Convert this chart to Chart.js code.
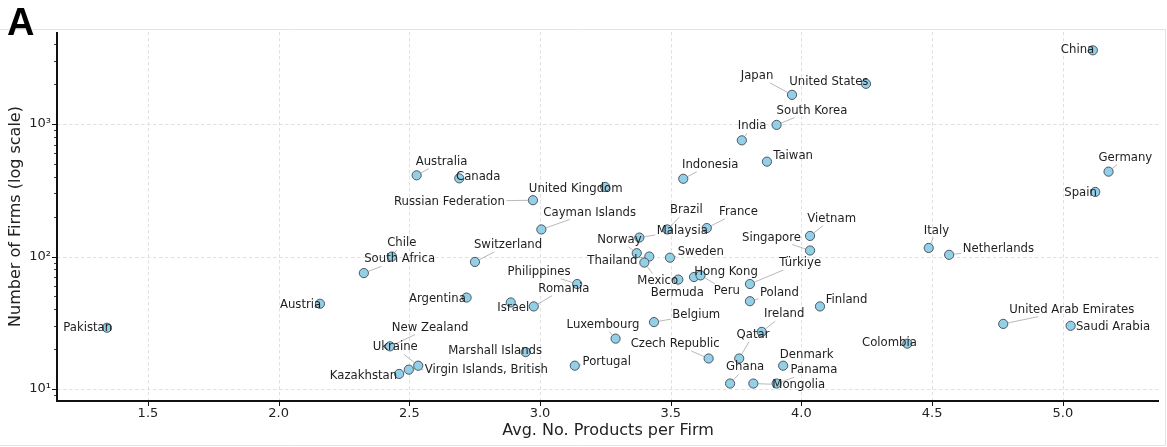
<!DOCTYPE html>
<html>
<head>
<meta charset="utf-8">
<script src="https://cdn.jsdelivr.net/npm/chart.js@4.4.1/dist/chart.umd.min.js"></script>
<style>
  html, body { margin: 0; padding: 0; background: #fff; }
  #wrap { width: 1167px; height: 447px; position: relative; }
</style>
</head>
<body>
<div id="wrap"><canvas id="c"></canvas></div>
<script>
// ---- data ----
const countries = [
  'China','United States','Japan','South Korea','India','Taiwan','Indonesia','Germany','Spain',
  'Australia','Canada','United Kingdom','Russian Federation','Cayman Islands','Brazil','France',
  'Malaysia','Norway','Thailand','Sweden','Mexico','Bermuda','Hong Kong','Peru','Türkiye','Poland',
  'Singapore','Vietnam','Italy','Netherlands','Finland','Ireland','Qatar','Ghana','Mongolia','Panama',
  'Denmark','Czech Republic','Belgium','Luxembourg','Portugal','Colombia','United Arab Emirates',
  'Saudi Arabia','Chile','South Africa','Switzerland','Philippines','Romania','Argentina','Israel',
  'Austria','Pakistan','New Zealand','Ukraine','Virgin Islands, British','Kazakhstan','Marshall Islands'
];
const avgProducts = [
  5.115, 4.247, 3.964, 3.905, 3.772, 3.868, 3.548, 5.175, 5.124,
  2.528, 2.691, 3.249, 2.973, 3.005, 3.487, 3.638,
  3.380, 3.370, 3.418, 3.497, 3.399, 3.529, 3.589, 3.614, 3.803, 3.803,
  4.033, 4.033, 4.487, 4.565, 4.071, 3.848, 3.762, 3.727, 3.816, 3.905,
  3.930, 3.645, 3.436, 3.289, 3.133, 4.405, 4.772,
  5.030, 2.433, 2.326, 2.751, 3.142, 2.976, 2.719, 2.888,
  2.158, 1.343, 2.426, 2.534, 2.498, 2.461, 2.945
];
const numFirms = [
  3600, 2010, 1660, 985, 753, 520, 386, 437, 307,
  410, 389, 335, 266, 160, 160, 164,
  139, 106, 100, 98, 90, 67, 70, 72, 62, 46,
  111, 143, 116, 103, 42, 27, 17, 11, 11, 11,
  15, 17, 32, 24, 15, 22, 31,
  30, 100, 75, 91, 62, 42, 49, 45,
  44, 29, 21, 15, 14, 13, 19
];
// label offsets (pixels, relative to each point: left edge x, vertical centre y)
const labelDx = [
  -32, -76.7, -51.3, 0, -4, 6.3, -1.3, -10, -31,
  -1, -3.3, -76.3, -139, 2, 2.7, 12.3,
  17.4, -39.4, -62, 7.7, -7, -27.6, 0.3, 13.3, 29.3, 10,
  -68, -2.7, -5, 13.7, 5.7, 2.3, -2.6, -4, 19, 14,
  -3.3, -78, 18.3, -49, 7.7, -45.3, 6,
  5.3, -4.7, 0.3, -1, -69.6, 4.6, -57.7, -13.4,
  -40, -43.7, 1.7, -45.6, 16, -69.3, -77.4
];
const labelDy = [
  0, -1.7, -19, -14.3, -14, -6, -14, -14, 0.7,
  -13.7, -1.3, 2.3, 1.3, -17, -19.3, -16.3,
  -7, -13.3, 4.3, -6, 18, 13, -5, 15.3, -21, -8.4,
  -13, -17.3, -17.3, -6, -6, -17.7, -23.7, -16.3, 1.7, -13.3,
  -11, -14.4, -7.3, -14, -3.7, -0.3, -14.3,
  1, -13.6, -13.7, -17, -12.3, -17.7, 1.3, 5.7,
  1, 0.7, -18.7, -18.3, 0.3, 2.4, -1
];
const xTickValues = [1.5, 2.0, 2.5, 3.0, 3.5, 4.0, 4.5, 5.0];
const yMajorTicks = [10, 100, 1000];
const yTickLabels = ['10¹', '10²', '10³'];
const xRange = [1.152, 5.368];
const yRange = [8.12, 4948];

const FONT = "'DejaVu Sans', sans-serif";
const POINT_R = 4.6;

function yMinorTicks() {
  const out = [];
  for (let e = 0; e <= 3; e++) {
    for (let m = 2; m <= 9; m++) {
      const v = m * Math.pow(10, e);
      if (v >= yRange[0] && v <= yRange[1]) out.push(v);
    }
  }
  return out;
}

const decorPlugin = {
  id: 'decor',
  beforeDraw(chart) {
    const ctx = chart.ctx;
    ctx.save();
    ctx.fillStyle = '#fff';
    ctx.fillRect(0, 0, chart.width, chart.height);
    // panel frame
    ctx.strokeStyle = '#e3e3e3';
    ctx.lineWidth = 1;
    ctx.beginPath();
    ctx.moveTo(0, 29.5); ctx.lineTo(1165.5, 29.5); ctx.lineTo(1165.5, 445.5); ctx.lineTo(0, 445.5);
    ctx.stroke();
    ctx.restore();
  },
  beforeDatasetsDraw(chart) {
    const ctx = chart.ctx, a = chart.chartArea;
    const xs = chart.scales.x, ys = chart.scales.y;
    ctx.save();
    ctx.strokeStyle = '#d9d9d9';
    ctx.lineWidth = 0.8;
    ctx.setLineDash([3.5, 2.5]);
    xTickValues.forEach(v => {
      const px = Math.round(xs.getPixelForValue(v)) + 0.5;
      ctx.beginPath(); ctx.moveTo(px, a.top); ctx.lineTo(px, a.bottom); ctx.stroke();
    });
    yMajorTicks.forEach(v => {
      const py = Math.round(ys.getPixelForValue(v)) + 0.5;
      ctx.beginPath(); ctx.moveTo(a.left, py); ctx.lineTo(a.right, py); ctx.stroke();
    });
    ctx.restore();
  },
  afterDatasetsDraw(chart) {
    const ctx = chart.ctx, a = chart.chartArea;
    const xs = chart.scales.x, ys = chart.scales.y;
    ctx.save();
    // spines
    ctx.strokeStyle = '#111';
    ctx.lineWidth = 2;
    ctx.beginPath();
    ctx.moveTo(a.left, a.top); ctx.lineTo(a.left, a.bottom); ctx.lineTo(a.right, a.bottom);
    ctx.stroke();
    // tick marks
    ctx.lineWidth = 1;
    xTickValues.forEach(v => {
      const px = Math.round(xs.getPixelForValue(v)) + 0.5;
      ctx.beginPath(); ctx.moveTo(px, a.bottom); ctx.lineTo(px, a.bottom + 5); ctx.stroke();
    });
    yMajorTicks.forEach(v => {
      const py = Math.round(ys.getPixelForValue(v)) + 0.5;
      ctx.beginPath(); ctx.moveTo(a.left, py); ctx.lineTo(a.left - 5, py); ctx.stroke();
    });
    ctx.lineWidth = 0.8;
    yMinorTicks().forEach(v => {
      const py = Math.round(ys.getPixelForValue(v)) + 0.5;
      ctx.beginPath(); ctx.moveTo(a.left, py); ctx.lineTo(a.left - 3, py); ctx.stroke();
    });

    // labels + leaders
    const meta = chart.getDatasetMeta(0);
    ctx.font = '11.7px ' + FONT;
    ctx.textBaseline = 'middle';
    ctx.textAlign = 'left';
    const h = 12;
    meta.data.forEach((el, i) => {
      const px = el.x, py = el.y;
      const lx = px + labelDx[i], ly = py + labelDy[i];
      const w = ctx.measureText(countries[i]).width;
      const cx = lx + w / 2, cy = ly;
      const hw = w / 2 + 1.5, hh = h / 2 + 1;
      // leader if point is outside the label box
      const nearX = Math.max(lx - 1.5, Math.min(px, lx + w + 1.5));
      const nearY = Math.max(ly - hh, Math.min(py, ly + hh));
      const dist = Math.hypot(px - nearX, py - nearY);
      if (dist > POINT_R + 1) {
        const dx = px - cx, dy = py - cy;
        const t = Math.min(dx !== 0 ? hw / Math.abs(dx) : Infinity, dy !== 0 ? hh / Math.abs(dy) : Infinity);
        const sx = cx + dx * t, sy = cy + dy * t;
        const L = Math.hypot(dx, dy);
        const ex = px - dx / L * POINT_R, ey = py - dy / L * POINT_R;
        ctx.strokeStyle = 'rgba(150,150,150,0.75)';
        ctx.lineWidth = 0.9;
        ctx.beginPath(); ctx.moveTo(sx, sy); ctx.lineTo(ex, ey); ctx.stroke();
      }
    });
    ctx.fillStyle = '#1e1e1e';
    meta.data.forEach((el, i) => {
      ctx.fillText(countries[i], el.x + labelDx[i], el.y + labelDy[i]);
    });

    // panel letter
    ctx.fillStyle = '#000';
    ctx.font = "bold 38px 'Liberation Sans', Arial, sans-serif";
    ctx.textBaseline = 'alphabetic';
    ctx.fillText('A', 7, 35);
    ctx.restore();
  }
};

new Chart(document.getElementById('c'), {
  type: 'scatter',
  data: {
    datasets: [{
      data: avgProducts.map((x, i) => ({ x: x, y: numFirms[i] })),
      pointRadius: POINT_R,
      pointHoverRadius: POINT_R,
      backgroundColor: '#93cfe7',
      borderColor: '#3e4a52',
      borderWidth: 0.9
    }]
  },
  options: {
    responsive: true,
    maintainAspectRatio: false,
    animation: false,
    events: [],
    layout: { padding: { top: 32, right: 8, left: 0, bottom: 0 } },
    plugins: { legend: { display: false }, tooltip: { enabled: false } },
    scales: {
      x: {
        type: 'linear',
        min: xRange[0], max: xRange[1],
        afterBuildTicks: s => { s.ticks = xTickValues.map(v => ({ value: v })); },
        afterFit: s => { s.height = 46; },
        grid: { display: false, drawTicks: false },
        border: { display: false },
        ticks: {
          padding: 5,
          color: '#222',
          font: { family: FONT, size: 13 },
          maxRotation: 0,
          autoSkip: false,
          callback: v => Number(v).toFixed(1)
        },
        title: {
          display: true, text: 'Avg. No. Products per Firm', color: '#222',
          font: { family: FONT, size: 16 }, padding: { top: 0, bottom: 7 }
        }
      },
      y: {
        type: 'logarithmic',
        min: yRange[0], max: yRange[1],
        afterBuildTicks: s => { s.ticks = yMajorTicks.map(v => ({ value: v })); },
        afterFit: s => { s.width = 57; },
        grid: { display: false, drawTicks: false },
        border: { display: false },
        ticks: {
          padding: 6,
          color: '#222',
          font: { family: FONT, size: 13 },
          autoSkip: false,
          callback: (v) => { const k = yMajorTicks.indexOf(Number(v)); return k >= 0 ? yTickLabels[k] : ''; }
        },
        title: {
          display: true, text: 'Number of Firms (log scale)', color: '#222',
          font: { family: FONT, size: 16 }, padding: { top: 6, bottom: 0 }
        }
      }
    }
  },
  plugins: [decorPlugin]
});
</script>
</body>
</html>
